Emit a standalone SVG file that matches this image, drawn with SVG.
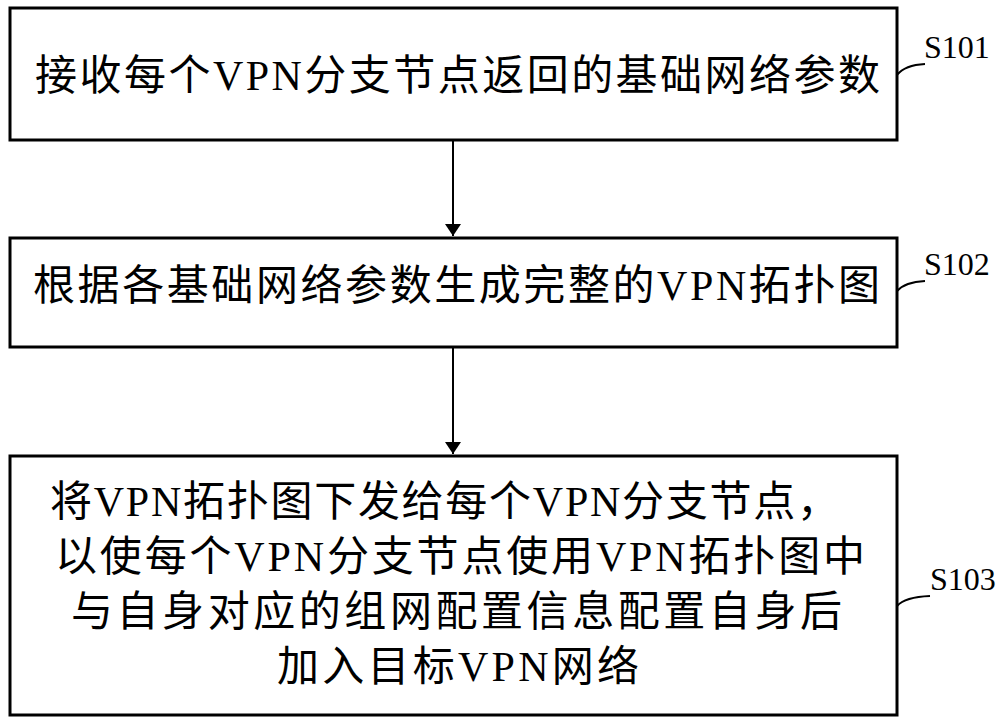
<svg xmlns="http://www.w3.org/2000/svg" width="1000" height="724" viewBox="0 0 1000 724">
<style>
.b{fill:#fff;stroke:#000;stroke-width:3}
.t{font-family:"Liberation Serif","Noto Sans CJK SC",serif;font-size:42px;fill:#000}
.l{font-family:"Liberation Serif",serif;font-size:32px;fill:#000}
.c{fill:none;stroke:#000;stroke-width:2}
</style>
<defs>
<marker id="ah" viewBox="0 0 12 16" markerWidth="12" markerHeight="16" refX="12" refY="8" orient="auto" markerUnits="userSpaceOnUse"><path d="M0,0L12,8L0,16z"/></marker></defs>
<g id="n1"><rect class="b" x="10" y="8" width="887" height="132"/><text class="t" x="35" y="90" textLength="845">接收每个VPN分支节点返回的基础网络参数</text></g>
<g id="n2"><rect class="b" x="10" y="238" width="887" height="109"/><text class="t" x="33" y="300" textLength="847">根据各基础网络参数生成完整的VPN拓扑图</text></g>
<g id="n3"><rect class="b" x="10" y="456" width="887" height="259"/>
<text class="t" x="50" y="516" textLength="789">将VPN拓扑图下发给每个VPN分支节点，</text>
<text class="t" x="55" y="571" textLength="810">以使每个VPN分支节点使用VPN拓扑图中</text>
<text class="t" x="71" y="626" textLength="771">与自身对应的组网配置信息配置自身后</text>
<text class="t" x="277" y="681" textLength="362">加入目标VPN网络</text></g>
<g id="labels">
<text class="l" x="924" y="58">S101</text><text class="l" x="924" y="275">S102</text><text class="l" x="930" y="590">S103</text>
</g>
<g id="connectors">
<line class="c" x1="453" y1="140" x2="453" y2="236" marker-end="url(#ah)"/>
<line class="c" x1="453" y1="347" x2="453" y2="454" marker-end="url(#ah)"/>
<path class="c" d="M897,75 Q905,65 925,64"/>
<path class="c" d="M897,291 Q905,282 925,281"/>
<path class="c" d="M897,606 Q905,597 930,596"/>
</g>
</svg>
